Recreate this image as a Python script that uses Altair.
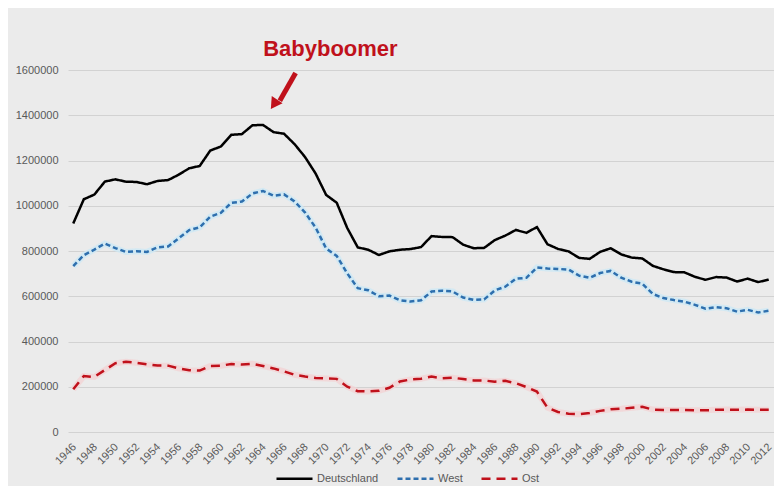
import altair as alt
import pandas as pd

years = list(range(1946, 2013))

deutschland = [922033, 1028696, 1049385, 1106825, 1116701, 1106380, 1105084, 1095029, 1109743, 1113408,
               1137169, 1165555, 1175870, 1243922, 1261614, 1313505, 1316534, 1355595, 1357304, 1325386,
               1318303, 1272276, 1214968, 1142366, 1047737, 1013396, 901657, 815969, 805500, 782310,
               798334, 805496, 808619, 817217, 865789, 862100, 861275, 827933, 812292, 813803,
               848232, 867969, 892993, 880459, 905675, 830019, 809114, 798447, 769603, 765221,
               796013, 812173, 785034, 770744, 766999, 734475, 719250, 706721, 705622, 685795,
               672724, 684862, 682514, 665126, 677947, 662685, 673544]

west = [733355, 781421, 806074, 832803, 812835, 795608, 799080, 796096, 816028, 820128,
        855887, 892228, 904465, 951942, 968629, 1012687, 1018552, 1054123, 1065437, 1044328,
        1050345, 1019459, 969825, 903456, 810808, 778526, 701214, 635633, 626373, 600512,
        602851, 582344, 576468, 581984, 620657, 624557, 621173, 594177, 584157, 586155,
        625963, 642010, 677259, 681537, 727199, 722250, 720794, 717915, 690905, 681374,
        702688, 711915, 682172, 664018, 655732, 610000, 592000, 583000, 576000, 562000,
        545000, 552000, 547000, 532000, 540000, 528000, 536000]

ost = [188679, 247275, 243311, 274022, 303866, 310772, 306004, 298933, 293715, 293280,
       281282, 273327, 271405, 291980, 292985, 300818, 297982, 301472, 291867, 281058,
       267958, 252817, 245143, 238910, 236929, 234870, 200443, 180336, 179127, 181798,
       195483, 223152, 232151, 235233, 245132, 237543, 240102, 233756, 228135, 227648,
       222269, 225959, 215734, 198922, 178476, 107769, 88320, 80532, 78698, 83847,
       93325, 100258, 102862, 106726, 111267, 99000, 97000, 97000, 97000, 96000,
       96000, 98000, 99000, 98000, 99000, 98000, 98000]

series_names = ["Deutschland", "West", "Ost"]
series_colors = ["#000000", "#2e6fae", "#c0111b"]
series_dashes = [[1, 0], [5, 3], [9, 6]]
glow_colors = {"West": "#cde9f5", "Ost": "#f3d3d4"}

x_tick_labels = list(range(1946, 2013, 2))
y_ticks = list(range(0, 1600001, 200000))

label_text = ["Babyboomer"]
label_x = [1970.4]
label_y = [1692000]
arrow_x = [1967.1]
arrow_y = [1587000]
arrow_x2 = [1965.6]
arrow_y2 = [1464000]
head_x = [1965.05]
head_y = [1448000]

rows = []
for name, vals in zip(series_names, [deutschland, west, ost]):
    for yr, v in zip(years, vals):
        rows.append({"year": yr, "value": v, "series": name})
df = pd.DataFrame(rows)

FONT = "Liberation Sans"
RED = "#c0111b"
GREY = "#595959"
PLOT_W, PLOT_H = 706, 362

x_scale = alt.Scale(domain=[1945.5, 2012.5], nice=False, zero=False)
x_enc = alt.X("year:Q", scale=x_scale, axis=None)
y_enc = alt.Y("value:Q",
              scale=alt.Scale(domain=[0, 1600000], nice=False),
              axis=alt.Axis(values=y_ticks, format="d", grid=True, gridColor="#d2d2d2", gridWidth=1,
                            ticks=False, domain=False, labelFontSize=11, labelColor=GREY,
                            labelPadding=10, title=None, labelFont=FONT))

legend = alt.Legend(orient="none", legendX=207, legendY=389, direction="horizontal", title=None,
                    symbolType="stroke", symbolSize=1296, symbolStrokeWidth=2.5,
                    labelFontSize=11, labelColor=GREY, labelFont=FONT,
                    columnPadding=13, labelOffset=3, padding=0)

base = alt.Chart(df)

glows = []
for name, gc in glow_colors.items():
    glows.append(
        base.transform_filter(alt.datum.series == name)
        .mark_line(strokeWidth=6, color=gc, opacity=0.8)
        .encode(x=x_enc, y=y_enc)
    )

lines = base.mark_line(strokeWidth=2.5).encode(
    x=x_enc, y=y_enc,
    color=alt.Color("series:N", scale=alt.Scale(domain=series_names, range=series_colors), legend=legend),
    strokeDash=alt.StrokeDash("series:N", scale=alt.Scale(domain=series_names, range=series_dashes), legend=legend),
    order=alt.Order("year:Q"),
)

xlab_df = pd.DataFrame({"year": x_tick_labels, "lab": [str(v) for v in x_tick_labels]})
xlabels = alt.Chart(xlab_df).mark_text(
    angle=315, align="right", baseline="middle", dx=2, fontSize=11, font=FONT, color=GREY
).encode(x=alt.X("year:Q", scale=x_scale, axis=None), y=alt.value(PLOT_H + 15), text="lab:N")

arrow_df = pd.DataFrame({"x": arrow_x, "y": arrow_y, "x2": arrow_x2, "y2": arrow_y2})
arrow = alt.Chart(arrow_df).mark_rule(color=RED, strokeWidth=5).encode(
    x="x:Q", y="y:Q", x2="x2:Q", y2="y2:Q")

head_df = pd.DataFrame({"x": head_x, "y": head_y})
head = alt.Chart(head_df).mark_point(shape="triangle-down", filled=True, size=170, angle=34,
                                     color=RED, opacity=1).encode(x="x:Q", y="y:Q")

text_df = pd.DataFrame({"x": label_x, "y": label_y, "t": label_text})
text = alt.Chart(text_df).mark_text(font=FONT, fontSize=22, fontWeight="bold", color=RED).encode(
    x="x:Q", y="y:Q", text="t:N")

chart = alt.layer(*glows, lines, xlabels, arrow, head, text).properties(
    width=PLOT_W, height=PLOT_H, autosize="none",
    padding={"left": 60, "top": 62, "right": 0, "bottom": 54},
).configure(background="#ebebeb").configure_view(stroke=None)

chart.save("out.html", embed_options={"renderer": "svg", "actions": False})
